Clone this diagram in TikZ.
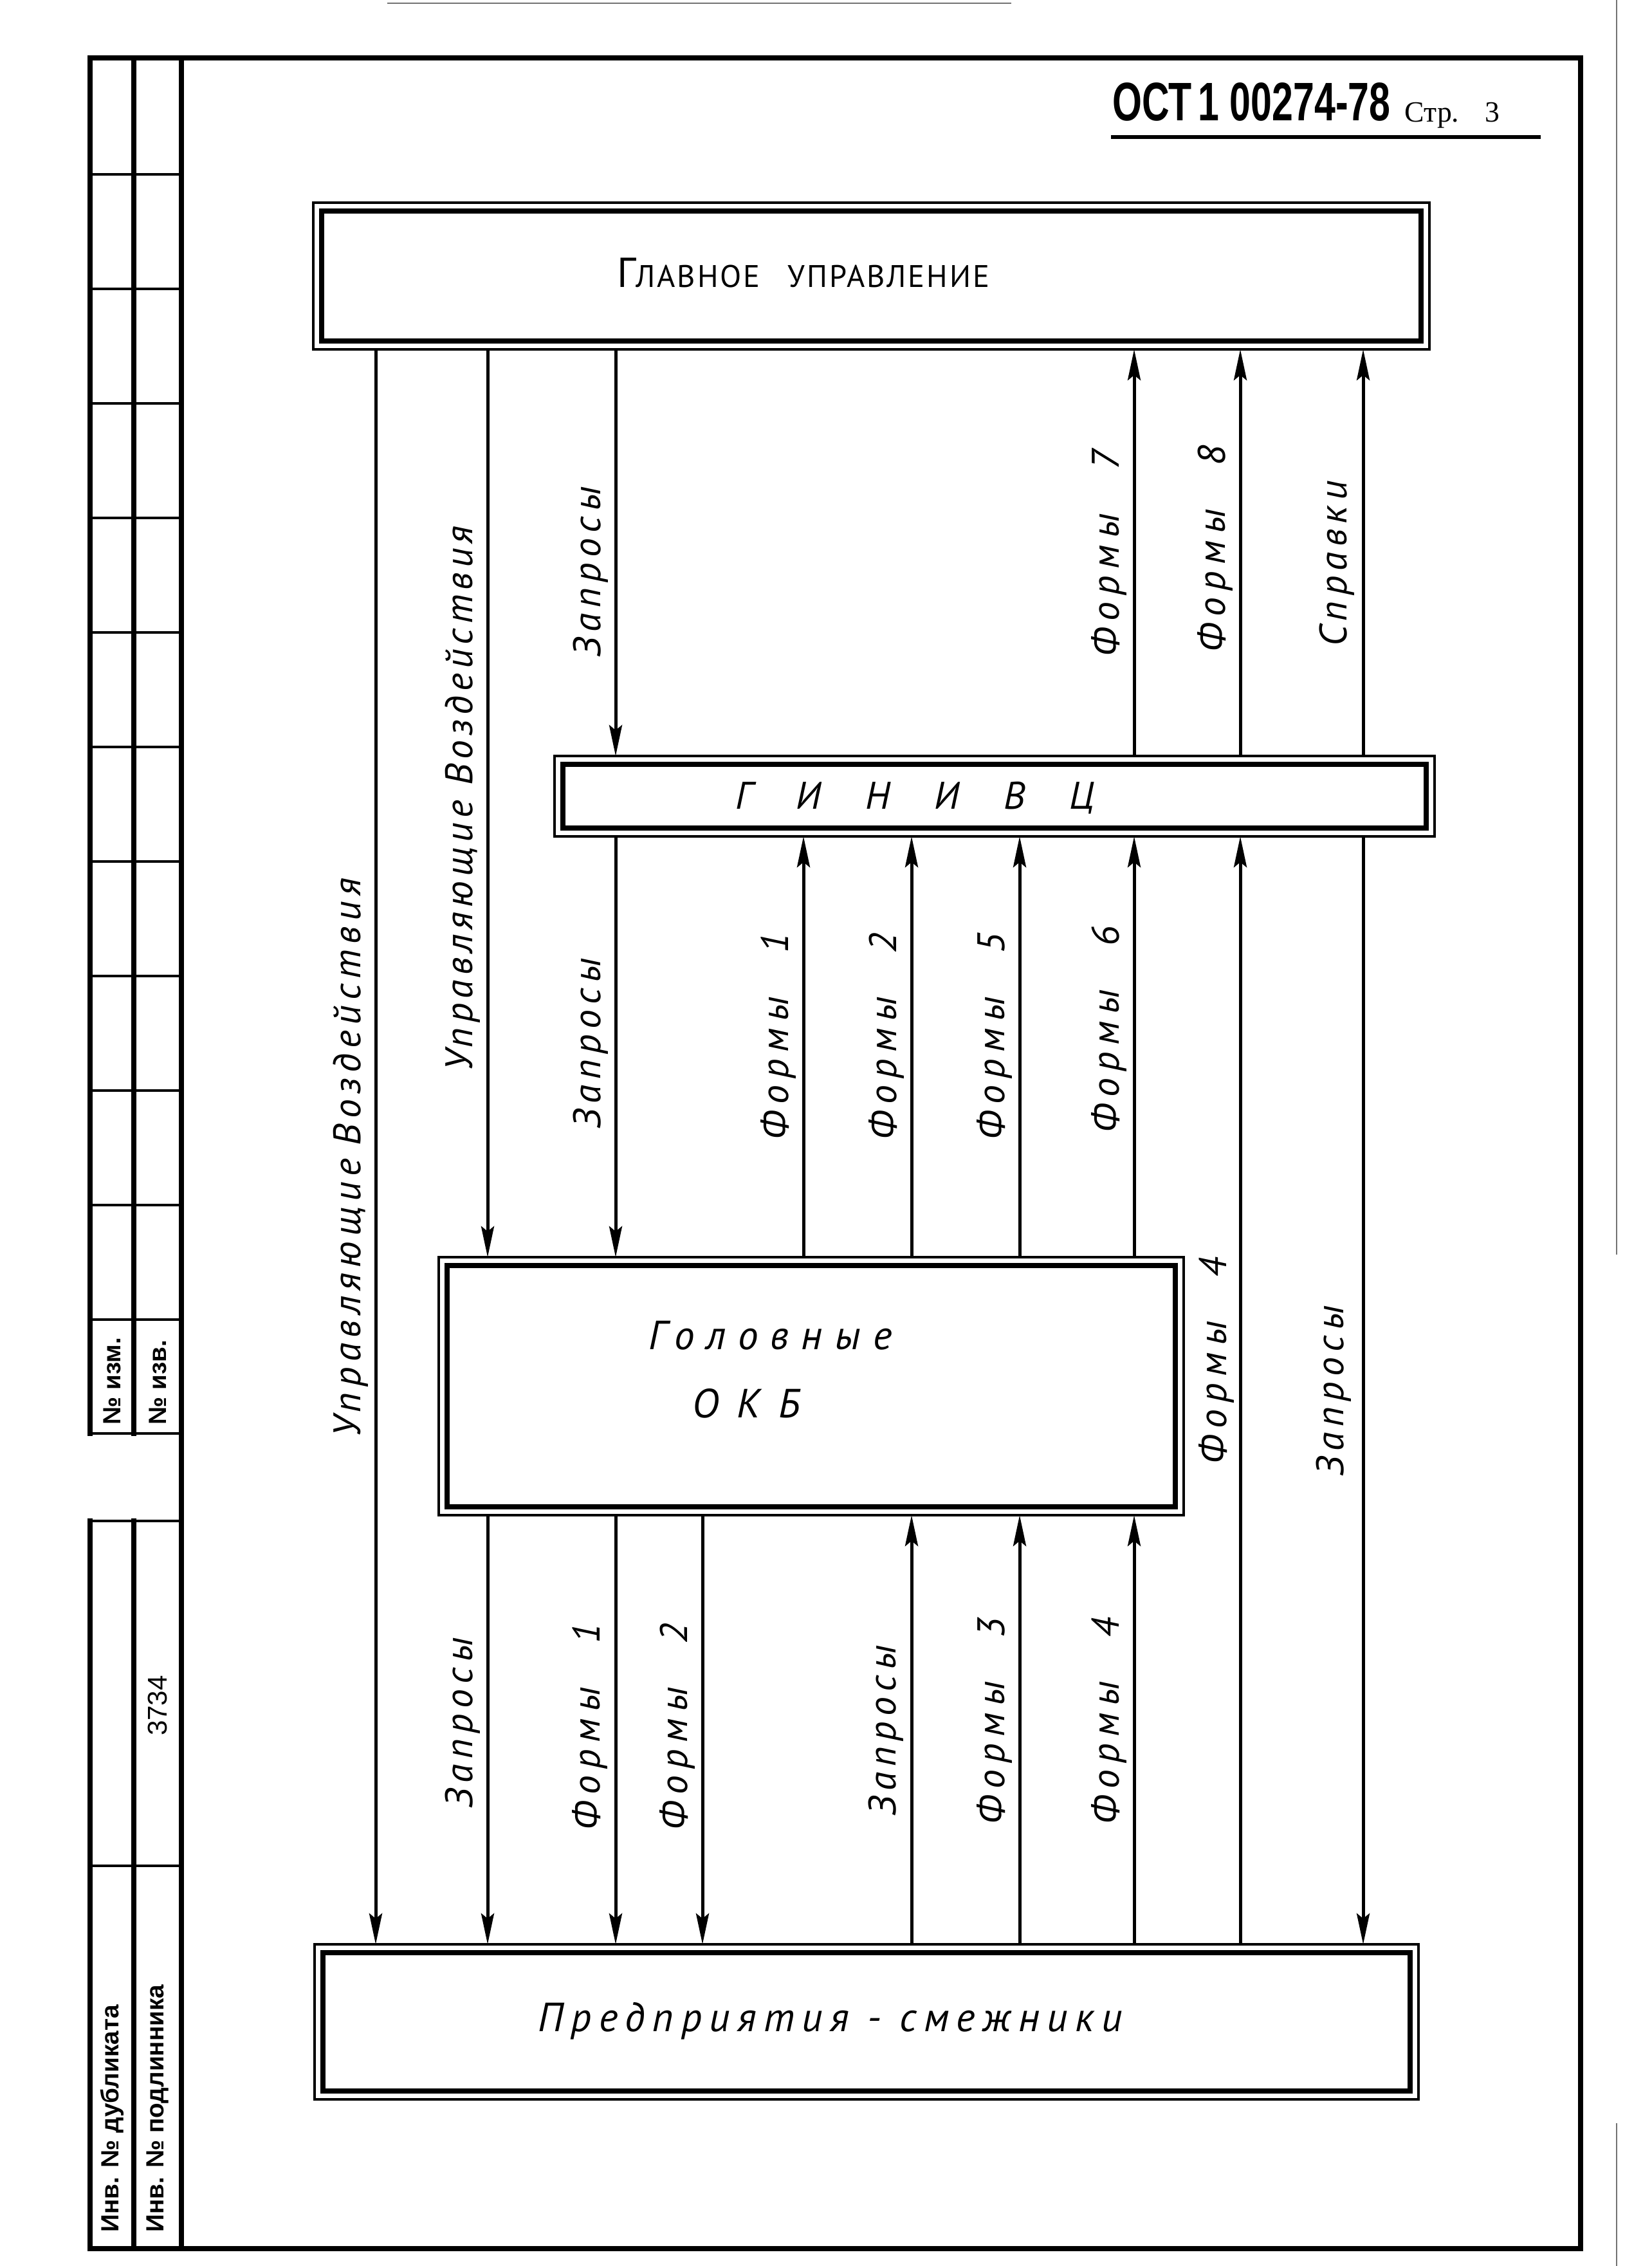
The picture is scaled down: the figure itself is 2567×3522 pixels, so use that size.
\documentclass[tikz,border=0pt]{standalone}
\usepackage{fontspec}
\setmainfont{PT Sans}
\newfontfamily\lblfont[LetterSpace=14]{PT Sans}
\newfontfamily\lbltight[LetterSpace=12]{PT Sans}
\newfontfamily\formfont[LetterSpace=18]{PT Sans}
\newfontfamily\bigfont[LetterSpace=30]{PT Sans}
\newfontfamily\prfont[LetterSpace=18]{PT Sans}
\newfontfamily\capfont[LetterSpace=6]{PT Sans}
\newfontfamily\hdrfont{Liberation Sans}
\newfontfamily\serfont{Liberation Serif}
\usetikzlibrary{arrows.meta}
\newcommand{\fm}[1]{{\formfont Формы}\hspace{6.8mm}#1}
\begin{document}
\begin{tikzpicture}[x=0.1mm,y=-0.1mm,
 frm/.style={line width=0.8mm,line cap=rect},
 stl/.style={line width=0.45mm},
 conn/.style={line width=0.5mm},
 arr/.style={conn,-{Stealth[length=4.8mm,width=2mm,inset=0.8mm]}},
 boxo/.style={draw,line width=0.4mm,inner sep=0,outer sep=0,rectangle},
 boxi/.style={line width=0.8mm},
 lbl/.style={rotate=90,anchor=base,inner sep=0,font=\lblfont\itshape\fontsize{17}{17}\selectfont},
 btxt/.style={anchor=base west,inner sep=0},
 stmp/.style={rotate=90,anchor=west,inner sep=0,font=\hdrfont\bfseries\fontsize{11}{11}\selectfont},
 scanedge/.style={line width=0.2mm,black!55}
]
\useasboundingbox (0,0) rectangle (2567,3522);
% scan edges
\draw[scanedge] (2513,0) -- (2513,1950);
\draw[scanedge] (2513,3300) -- (2513,3522);
\draw[scanedge] (602,5) -- (1572,5);
% frame
\draw[frm] (140,90) -- (2457,90) -- (2457,3495) -- (140,3495);
\draw[frm] (140,90) -- (140,2228);
\draw[frm] (140,2364) -- (140,3495);
\draw[frm] (208,90) -- (208,2228);
\draw[frm] (208,2364) -- (208,3495);
\draw[frm] (282,90) -- (282,3495);
\foreach \yy in {271,449,627,805,983,1161,1339,1517,1695,1873,2051,2228,2364,2900}
  \draw[stl] (140,\yy) -- (282,\yy);
% stamp texts
\node[stmp] (s1) at (174,2215) {№ изм.};
\node[stmp] (s2) at (245,2215) {№ изв.};
\node[rotate=90,inner sep=0,font=\hdrfont\fontsize{12}{12}\selectfont] (s3) at (245,2651) {3734};
\node[stmp] (s4) at (174,3470) {Инв. № дубликата};
\node[stmp] (s5) at (245,3470) {Инв. № подлинника};
% header
\node[btxt] (hdr) at (1729,188) {\scalebox{0.7}[1]{\hdrfont\bfseries\fontsize{24}{24}\selectfont ОСТ\,1\ 00274-78}};
\node[btxt] (str) at (2183,190) {\serfont\fontsize{13}{13}\selectfont Стр.};
\node[btxt] (pg) at (2308,190) {\serfont\fontsize{13}{13}\selectfont 3};
\draw[line width=0.6mm] (1727,213) -- (2395,213);
% boxes
\node[boxo,minimum width=173.5mm,minimum height=22.8mm] (gu) at (1354.5,429) {};
\draw[boxi] ([shift={(13,13)}]gu.north west) rectangle ([shift={(-13,-13)}]gu.south east);
\node[boxo,minimum width=136.8mm,minimum height=12.5mm] (gi) at (1546,1237.5) {};
\draw[boxi] ([shift={(13,13)}]gi.north west) rectangle ([shift={(-13,-13)}]gi.south east);
\node[boxo,minimum width=115.8mm,minimum height=40.1mm] (okb) at (1261,2154.5) {};
\draw[boxi] ([shift={(13,13)}]okb.north west) rectangle ([shift={(-13,-13)}]okb.south east);
\node[boxo,minimum width=171.6mm,minimum height=24.1mm] (pr) at (1347,3142.5) {};
\draw[boxi] ([shift={(13,13)}]pr.north west) rectangle ([shift={(-13,-13)}]pr.south east);
% box texts
\node[btxt] (gut) at (959,447) {{\fontsize{18.5}{18}\selectfont Г}{\capfont\fontsize{13.8}{14}\selectfont ЛАВНОЕ\hspace{4.3mm}УПРАВЛЕНИЕ}};
\node[btxt] (git) at (1143,1257) {\itshape\fontsize{17}{17}\selectfont Г\hspace{6.9mm}И\hspace{6.9mm}Н\hspace{6.9mm}И\hspace{6.9mm}В\hspace{6.9mm}Ц};
\node[btxt] (okt1) at (1008,2097) {\bigfont\itshape\fontsize{18}{18}\selectfont Головные};
\node[btxt] (okt2) at (1076,2203) {\itshape\fontsize{18}{18}\selectfont О\hspace{2.8mm}К\hspace{2.8mm}Б};
\node[btxt] (prt) at (836,3157) {\prfont\itshape\fontsize{18}{18}\selectfont Предприятия - смежники};
% column coordinates
\coordinate (c1) at (584,0);
\coordinate (c2) at (758,0);
\coordinate (c3) at (957,0);
\coordinate (c4) at (1092,0);
\coordinate (c5) at (1249,0);
\coordinate (c6) at (1417,0);
\coordinate (c7) at (1585,0);
\coordinate (c8) at (1763,0);
\coordinate (c9) at (1928,0);
\coordinate (c10) at (2119,0);
% connectors
\draw[arr] (gu.south -| c1) -- (pr.north -| c1);
\draw[arr] (gu.south -| c2) -- (okb.north -| c2);
\draw[arr] (gu.south -| c3) -- (gi.north -| c3);
\draw[arr] (gi.north -| c8) -- (gu.south -| c8);
\draw[arr] (gi.north -| c9) -- (gu.south -| c9);
\draw[arr] (gi.north -| c10) -- (gu.south -| c10);
\draw[arr] (gi.south -| c3) -- (okb.north -| c3);
\draw[arr] (okb.north -| c5) -- (gi.south -| c5);
\draw[arr] (okb.north -| c6) -- (gi.south -| c6);
\draw[arr] (okb.north -| c7) -- (gi.south -| c7);
\draw[arr] (okb.north -| c8) -- (gi.south -| c8);
\draw[arr] (pr.north -| c9) -- (gi.south -| c9);
\draw[arr] (gi.south -| c10) -- (pr.north -| c10);
\draw[arr] (okb.south -| c2) -- (pr.north -| c2);
\draw[arr] (okb.south -| c3) -- (pr.north -| c3);
\draw[arr] (okb.south -| c4) -- (pr.north -| c4);
\draw[arr] (pr.north -| c6) -- (okb.south -| c6);
\draw[arr] (pr.north -| c7) -- (okb.south -| c7);
\draw[arr] (pr.north -| c8) -- (okb.south -| c8);
% labels
\node[lbl] (l1) at (560,1799) {Управляющие\hspace{2mm}Воздействия};
\node[lbl,font=\lbltight\itshape\fontsize{17}{17}\selectfont] (l2) at (734,1241) {Управляющие Воздействия};
\node[lbl] (l3) at (933,889) {Запросы};
\node[lbl] (l4) at (1739,860) {\fm{7}};
\node[lbl] (l5) at (1904,853) {\fm{8}};
\node[lbl] (l6) at (2093,876) {Справки};
\node[lbl] (l7) at (933,1622) {Запросы};
\node[lbl] (l8) at (1225,1611) {\fm{1}};
\node[lbl] (l9) at (1393,1611) {\fm{2}};
\node[lbl] (l10) at (1561,1611) {\fm{5}};
\node[lbl] (l11) at (1739,1600) {\fm{6}};
\node[lbl] (l12) at (1906,2115) {\fm{4}};
\node[lbl] (l13) at (2088,2162) {Запросы};
\node[lbl] (l14) at (734,2678) {Запросы};
\node[lbl] (l15) at (932,2684) {\fm{1}};
\node[lbl] (l16) at (1068,2684) {\fm{2}};
\node[lbl] (l17) at (1392,2690) {Запросы};
\node[lbl] (l18) at (1561,2675) {\fm{3}};
\node[lbl] (l19) at (1739,2675) {\fm{4}};
\end{tikzpicture}
\end{document}
